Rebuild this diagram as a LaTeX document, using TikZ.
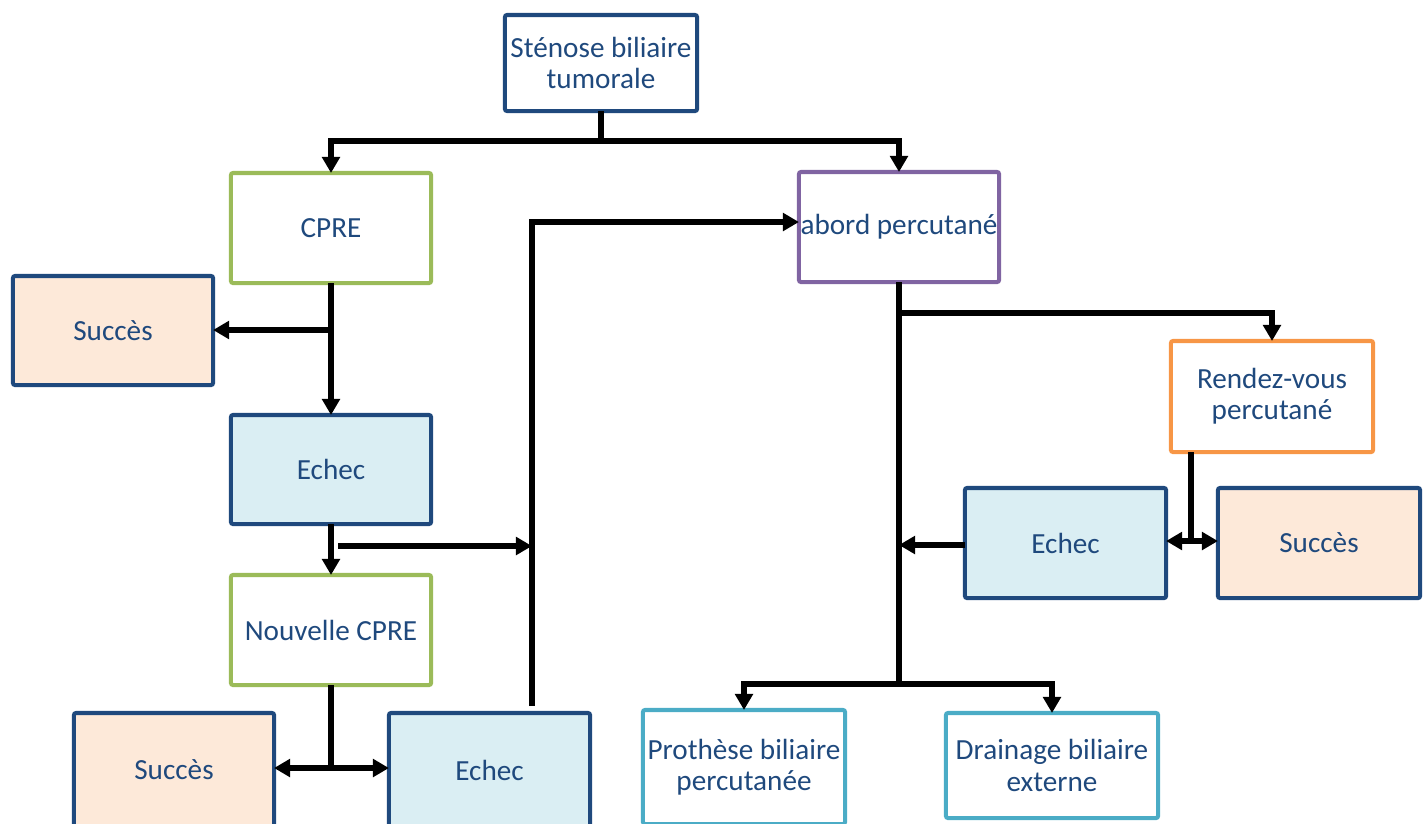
\documentclass[tikz,border=0pt]{standalone}
\usepackage{fontspec}
\setmainfont{Carlito}
\usetikzlibrary{arrows.meta}
\definecolor{txt}{HTML}{1F497D}
\definecolor{dblue}{HTML}{1F497D}
\definecolor{peach}{HTML}{FDE9D9}
\definecolor{lblue}{HTML}{DAEEF3}
\definecolor{green}{HTML}{9BBB59}
\definecolor{purple}{HTML}{8064A2}
\definecolor{orange}{HTML}{F79646}
\definecolor{cyan}{HTML}{4BACC6}
\tikzset{
  box/.style={draw, line width=1.15pt, rounded corners=0.6pt, inner sep=0pt, outer sep=0pt,
    align=center, text=txt, font=\fontsize{8.3}{8.9}\selectfont},
  conn/.style={line width=1.5pt, black},
  arr/.style={conn, -{Triangle[width=5pt,length=4.6pt]}}
}
\begin{document}
\begin{tikzpicture}[x=0.01cm,y=-0.01cm]
\useasboundingbox (0,0) rectangle (1427,823);
% nodes
\node[box, draw=dblue, minimum width=1.92cm, minimum height=0.96cm] (top) at (601,63) {Sténose biliaire\\tumorale};
\node[box, draw=green, minimum width=2cm, minimum height=1.10cm] (cpre) at (331,228) {CPRE};
\node[box, draw=purple, minimum width=2cm, minimum height=1.10cm] (abord) at (899,227) {abord percutané};
\node[box, draw=dblue, fill=peach, minimum width=2cm, minimum height=1.09cm] (succ1) at (113,330.5) {Succès};
\node[box, draw=dblue, fill=lblue, minimum width=2cm, minimum height=1.09cm] (echec1) at (331,469.5) {Echec};
\node[box, draw=green, minimum width=2cm, minimum height=1.10cm] (ncpre) at (331,630) {Nouvelle CPRE};
\node[box, draw=dblue, fill=peach, minimum width=2cm, minimum height=1.14cm] (succ2) at (174,770) {Succès};
\node[box, draw=dblue, fill=lblue, minimum width=2.01cm, minimum height=1.14cm] (echec2) at (489.5,770) {Echec};
\node[box, draw=orange, minimum width=2.02cm, minimum height=1.11cm] (rdv) at (1272,396.5) {Rendez-vous\\percutané};
\node[box, draw=dblue, fill=lblue, minimum width=2.01cm, minimum height=1.10cm] (echec3) at (1065.5,543) {Echec};
\node[box, draw=dblue, fill=peach, minimum width=2.02cm, minimum height=1.10cm] (succ3) at (1319,543) {Succès};
\node[box, draw=cyan, minimum width=2.02cm, minimum height=1.14cm] (proth) at (744,767) {Prothèse biliaire\\percutanée};
\node[box, draw=cyan, minimum width=2.12cm, minimum height=1.05cm] (drain) at (1052,765.5) {Drainage biliaire\\externe};
% junctions
\coordinate (j1) at (601,141);
\coordinate (j2) at (331,330);
\coordinate (e1r) at (338,546);
\coordinate (vb) at (532,546);
\coordinate (vbot) at (532,706);
\coordinate (vtop) at (532,222);
\coordinate (j3) at (331,768);
\coordinate (j4) at (899,313);
\coordinate (j5) at (899,684);
\coordinate (j6) at (899,545);
\coordinate (j7) at (1191,541);
% connectors
\draw[conn] (top.south) -- (j1);
\draw[arr] (j1) -| (cpre.north);
\draw[arr] (j1) -| (abord.north);
\draw[arr] (cpre.south) -- (echec1.north);
\draw[arr] (j2) -- (succ1.east |- j2);
\draw[arr] (echec1.south) -- (ncpre.north);
\draw[arr] (e1r) -- (vb);
\draw[arr] (vbot) -- (vtop) -- (abord.west |- vtop);
\draw[conn] (ncpre.south) -- (j3);
\draw[arr] (j3) -- (succ2.east |- j3);
\draw[arr] (j3) -- (echec2.west |- j3);
\draw[conn] (abord.south) -- (j5);
\draw[arr] (j4) -| (rdv.north);
\draw[arr] (j5) -| (proth.north);
\draw[arr] (j5) -| (drain.north);
\draw[arr] (echec3.west |- j6) -- (j6);
\draw[conn] (rdv.south -| j7) -- (j7);
\draw[arr] (j7) -- (echec3.east |- j7);
\draw[arr] (j7) -- (succ3.west |- j7);
\end{tikzpicture}
\end{document}
